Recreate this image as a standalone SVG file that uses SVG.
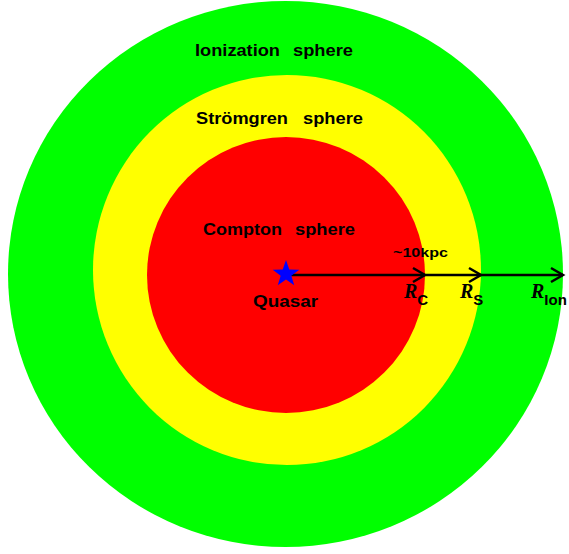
<svg xmlns="http://www.w3.org/2000/svg" width="569" height="554" viewBox="0 0 569 554">
<style>
.lbl{font-family:"Liberation Sans",Arial,sans-serif;font-weight:bold;font-size:17px;fill:#000}
.r{font-family:"Liberation Serif","Times New Roman",serif;font-style:italic;font-weight:bold;font-size:20px;fill:#000}
.sub{font-family:"Liberation Sans",Arial,sans-serif;font-weight:bold;font-size:13px;fill:#000}
.rs{font-family:"Liberation Sans",Arial,sans-serif;font-weight:bold;font-size:15px;fill:#000}
.arr{stroke:#000;stroke-width:2.5;fill:none}
</style>
<defs>
<marker id="chev" markerUnits="userSpaceOnUse" viewBox="-2 -2 16 18" refX="12" refY="7" markerWidth="16" markerHeight="18" orient="auto" overflow="visible">
<path d="M0,0 L12,7 L0,14" fill="none" stroke="#000" stroke-width="2.5"/>
</marker>
</defs>
<rect width="569" height="554" fill="#fff"/>
<g id="ionization-sphere">
<ellipse cx="285.5" cy="274" rx="277.5" ry="273" fill="#00ff00"/>
<text class="lbl" x="195" y="56" textLength="85" lengthAdjust="spacingAndGlyphs">Ionization</text>
<text class="lbl" x="293" y="56" textLength="60" lengthAdjust="spacingAndGlyphs">sphere</text>
</g>
<g id="stromgren-sphere">
<ellipse cx="287" cy="270" rx="194" ry="195" fill="#ffff00"/>
<text class="lbl" x="196" y="124" textLength="92" lengthAdjust="spacingAndGlyphs">Strömgren</text>
<text class="lbl" x="303" y="124" textLength="60" lengthAdjust="spacingAndGlyphs">sphere</text>
</g>
<g id="compton-sphere">
<ellipse cx="286" cy="275" rx="139" ry="138" fill="#ff0000"/>
<text class="lbl" x="203" y="235" textLength="79" lengthAdjust="spacingAndGlyphs">Compton</text>
<text class="lbl" x="295" y="235" textLength="60" lengthAdjust="spacingAndGlyphs">sphere</text>
</g>
<g id="connectors">
<line class="arr" x1="290" y1="275" x2="425" y2="275" marker-end="url(#chev)"/>
<line class="arr" x1="425" y1="275" x2="481" y2="275" marker-end="url(#chev)"/>
<line class="arr" x1="481" y1="275" x2="563" y2="275" marker-end="url(#chev)"/>
<text class="sub" x="393" y="257" textLength="55" lengthAdjust="spacingAndGlyphs">~10kpc</text>
</g>
<g id="quasar">
<polygon points="286,260 289.29,269.47 299.31,269.67 291.33,275.73 294.23,285.33 286,279.6 277.77,285.33 280.67,275.73 272.69,269.67 282.71,269.47" fill="#0000ff"/>
<text class="lbl" x="253" y="307" textLength="65" lengthAdjust="spacingAndGlyphs">Quasar</text>
</g>
<g id="labels">
<text x="404" y="298"><tspan class="r">R</tspan><tspan class="rs" dy="7">C</tspan></text>
<text x="460" y="298"><tspan class="r">R</tspan><tspan class="rs" dy="7">S</tspan></text>
<text x="531" y="298"><tspan class="r">R</tspan><tspan class="rs" dy="7">Ion</tspan></text>
</g>
</svg>
